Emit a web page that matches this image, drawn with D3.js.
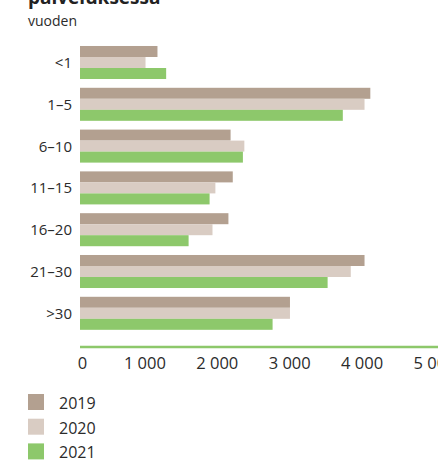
<!DOCTYPE html>
<html><head><meta charset="utf-8">
<script src="https://cdn.jsdelivr.net/npm/d3@7"></script>
<style>
html,body{margin:0;padding:0;background:#fff;}
svg{display:block;font-family:"Open Sans",sans-serif;}
</style></head>
<body>
<script>
const categories = ["<1", "1–5", "6–10", "11–15", "16–20", "21–30", ">30"];
const years = ["2019", "2020", "2021"];
const values2019 = [1070, 4010, 2080, 2110, 2050, 3930, 2900];
const values2020 = [905, 3930, 2270, 1870, 1830, 3740, 2900];
const values2021 = [1190, 3630, 2250, 1790, 1500, 3420, 2660];
const xTicks = [0, 1000, 2000, 3000, 4000, 5000];
const colors = ["#b3a090", "#d9ccc3", "#8dc86b"];

const W = 438, H = 460;
const svg = d3.select("body").append("svg").attr("width", W).attr("height", H);

// Titles (top one cropped)
svg.append("text").attr("x", 28).attr("y", 4)
  .attr("font-size", 19).attr("font-weight", 700).attr("fill", "#222")
  .text("palveluksessa");
svg.append("text").attr("x", 28).attr("y", 26)
  .attr("font-size", 14).attr("fill", "#2b2b2b").text("vuoden");

const x = d3.scaleLinear().domain([0, 5000]).range([80, 442]);
const y = d3.scaleBand().domain(categories).range([41.6, 334.2])
  .paddingInner(0.21).paddingOuter(0.105);
const ySub = d3.scaleBand().domain(years).range([0, y.bandwidth()]);

const series = [values2019, values2020, values2021];
const rows = categories.map((c, i) => ({cat: c, vals: years.map((yr, k) => ({yr, v: series[k][i]}))}));

const g = svg.append("g");
const grp = g.selectAll("g.grp").data(rows).join("g")
  .attr("transform", d => `translate(0,${y(d.cat)})`);
grp.selectAll("rect").data(d => d.vals).join("rect")
  .attr("x", x(0))
  .attr("y", d => ySub(d.yr))
  .attr("width", d => x(d.v) - x(0))
  .attr("height", ySub.bandwidth())
  .attr("fill", (d, k) => colors[k]);

// category labels
svg.append("g").selectAll("text").data(categories).join("text")
  .attr("x", 72).attr("y", d => y(d) + y.bandwidth() / 2)
  .attr("dy", "0.36em")
  .attr("text-anchor", "end").attr("font-size", 15).attr("fill", "#2b2b2b")
  .text(d => d);

// x axis
const fmt = v => v === 0 ? "0" : d3.format(",")(v).replace(/,/g, " ");
const axis = d3.axisBottom(x).tickValues(xTicks).tickFormat(fmt).tickSize(0).tickPadding(0);
const ax = svg.append("g").attr("transform", "translate(0,347)").call(axis);
ax.select(".domain").remove();
ax.selectAll("text").attr("font-size", 16.5).attr("fill", "#2b2b2b")
  .attr("font-family", "'Open Sans',sans-serif")
  .attr("y", 22).attr("dy", 0)
  .attr("dx", (d, i) => i === 0 ? 2 : -8);
svg.append("line").attr("x1", x(0)).attr("x2", W).attr("y1", 347).attr("y2", 347)
  .attr("stroke", "#8dc86b").attr("stroke-width", 2.6);

// legend
const lg = svg.append("g").selectAll("g").data(years).join("g")
  .attr("transform", (d, i) => `translate(28,${394 + i * 24.7})`);
lg.append("rect").attr("width", 16).attr("height", 16).attr("fill", (d, i) => colors[i]);
lg.append("text").attr("x", 31).attr("y", 15).attr("font-size", 16).attr("fill", "#2b2b2b").text(d => d);
</script>
</body></html>
